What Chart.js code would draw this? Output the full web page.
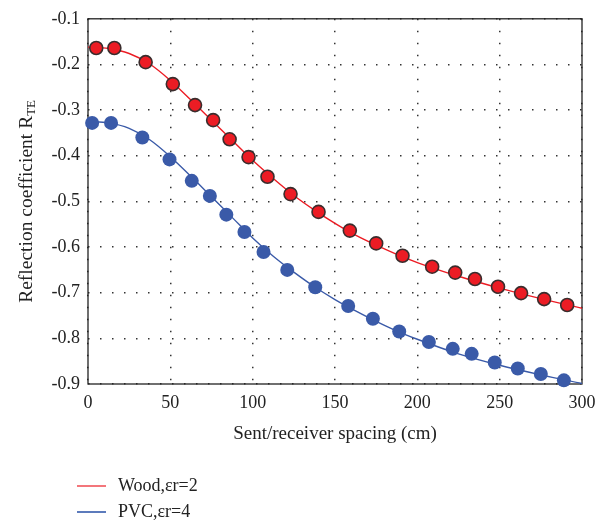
<!DOCTYPE html>
<html>
<head>
<meta charset="utf-8">
<title>Reflection coefficient</title>
<script src="https://cdn.jsdelivr.net/npm/chart.js@4/dist/chart.umd.min.js"></script>
<style>
  html, body { margin: 0; padding: 0; background: #fff; }
  #chart { display: block; }
</style>
</head>
<body>
<canvas id="chart" width="611" height="525"></canvas>
<script>
// ---- data ----
const xTicks = [0, 50, 100, 150, 200, 250, 300];
const yTicks = [-0.9, -0.8, -0.7, -0.6, -0.5, -0.4, -0.3, -0.2, -0.1];

// measured points
const woodX = [5, 16, 35, 51.5, 65, 76, 86, 97.5, 109, 123, 140, 159, 175, 191, 209, 223, 235, 249, 263, 277, 291];
const woodY = [-0.164, -0.164, -0.195, -0.243, -0.289, -0.322, -0.364, -0.403, -0.446, -0.484, -0.523,
               -0.564, -0.592, -0.619, -0.643, -0.656, -0.670, -0.687, -0.701, -0.714, -0.727];
const pvcX  = [2.5, 14, 33, 49.5, 63, 74, 84, 95, 106.6, 121, 138, 158, 173, 189, 207, 221.5, 233, 247, 261, 275, 289];
const pvcY  = [-0.328, -0.328, -0.360, -0.408, -0.455, -0.488, -0.529, -0.567, -0.611, -0.650, -0.688,
               -0.729, -0.757, -0.785, -0.808, -0.823, -0.834, -0.853, -0.866, -0.878, -0.892];

// fitted curves
const curveX    = [0, 12.5, 25, 37.5, 50, 62.5, 75, 87.5, 100, 112.5, 125, 137.5, 150, 162.5, 175, 187.5, 200, 225, 250, 275, 300];
const woodCurve = [-0.162, -0.165, -0.176, -0.199, -0.235, -0.278, -0.322, -0.366, -0.410, -0.450, -0.487,
                   -0.519, -0.548, -0.574, -0.596, -0.616, -0.634, -0.664, -0.690, -0.713, -0.734];
const pvcCurve  = [-0.325, -0.328, -0.340, -0.365, -0.402, -0.445, -0.490, -0.535, -0.580, -0.620, -0.655,
                   -0.687, -0.715, -0.740, -0.763, -0.784, -0.802, -0.834, -0.859, -0.880, -0.899];

const legendLabels = ['Wood,\u03B5r=2', 'PVC,\u03B5r=4'];

const RED  = '#ec1c24';
const BLUE = '#3a5aa8';
const SERIF = '"Liberation Serif", "DejaVu Serif", serif';

const zip = (xs, ys) => xs.map((x, i) => ({ x, y: ys[i] }));

//  Frame box + custom axis title + legend
const decorPlugin = {
  id: 'decor',
  beforeDatasetsDraw(chart) {
    const { ctx, chartArea: a } = chart;
    ctx.save();
    ctx.strokeStyle = '#222';
    ctx.lineWidth = 1.3;
    ctx.strokeRect(a.left, a.top, a.right - a.left, a.bottom - a.top);
    ctx.restore();
  },
  afterDraw(chart) {
    const { ctx, chartArea: a } = chart;

    // y title with subscript
    ctx.save();
    ctx.fillStyle = '#222';
    ctx.textBaseline = 'middle';
    const main = 'Reflection coefficient R';
    const sub  = 'TE';
    ctx.font = '19.5px ' + SERIF;
    const wMain = ctx.measureText(main).width;
    ctx.font = '13px ' + SERIF;
    const wSub = ctx.measureText(sub).width;
    ctx.translate(27, (a.top + a.bottom) / 2);
    ctx.rotate(-Math.PI / 2);
    const x0 = -(wMain + wSub) / 2;
    ctx.font = '19.5px ' + SERIF;
    ctx.fillText(main, x0, 0);
    ctx.font = '13px ' + SERIF;
    ctx.fillText(sub, x0 + wMain, 5);
    ctx.restore();

    // legend (curves only)
    const items = [
      { label: legendLabels[0], color: RED,       y: 486 },
      { label: legendLabels[1], color: '#4a6db5', y: 512 },
    ];
    ctx.save();
    ctx.font = '18px ' + SERIF;
    ctx.textBaseline = 'middle';
    items.forEach(it => {
      ctx.strokeStyle = it.color;
      ctx.lineWidth = it.color === RED ? 1.2 : 1.8;
      ctx.beginPath();
      ctx.moveTo(77, it.y);
      ctx.lineTo(106, it.y);
      ctx.stroke();
      ctx.fillStyle = '#222';
      ctx.fillText(it.label, 118, it.y);
    });
    ctx.restore();
  },
};

new Chart(document.getElementById('chart'), {
  type: 'line',
  data: {
    datasets: [
      {
        label: legendLabels[0] + ' data',
        data: zip(woodX, woodY),
        showLine: false,
        pointRadius: 6.5,
        pointBackgroundColor: RED,
        pointBorderColor: '#3a2d2d',
        pointBorderWidth: 1.6,
        order: 0,
        clip: false,
      },
      {
        label: legendLabels[1] + ' data',
        data: zip(pvcX, pvcY),
        showLine: false,
        pointRadius: 7,
        pointBackgroundColor: BLUE,
        pointBorderColor: BLUE,
        pointBorderWidth: 0,
        order: 0,
        clip: false,
      },
      {
        label: legendLabels[0],
        data: zip(curveX, woodCurve),
        borderColor: RED,
        borderWidth: 1.4,
        pointRadius: 0,
        cubicInterpolationMode: 'monotone',
        order: 1,
      },
      {
        label: legendLabels[1],
        data: zip(curveX, pvcCurve),
        borderColor: BLUE,
        borderWidth: 1.4,
        pointRadius: 0,
        cubicInterpolationMode: 'monotone',
        order: 1,
      },
    ],
  },
  options: {
    responsive: false,
    animation: false,
    events: [],
    layout: { padding: { left: 0, right: 29, top: 12, bottom: 80 } },
    plugins: {
      legend:  { display: false },
      tooltip: { enabled: false },
    },
    scales: {
      x: {
        type: 'linear',
        min: xTicks[0],
        max: xTicks[xTicks.length - 1],
        afterBuildTicks: s => { s.ticks = xTicks.map(v => ({ value: v })); },
        afterFit: s => { s.height = 61; },
        grid: { color: '#333', lineWidth: 1.5, drawTicks: false },
        border: { display: false, dash: [1.5, 10.5] },
        ticks: {
          color: '#222',
          padding: 8,
          maxRotation: 0,
          font: { family: SERIF, size: 18 },
          callback: v => String(v),
        },
        title: {
          display: true,
          text: 'Sent/receiver spacing (cm)',
          color: '#222',
          padding: { top: 0, bottom: 0 },
          font: { family: SERIF, size: 19 },
        },
      },
      y: {
        type: 'linear',
        min: yTicks[0],
        max: yTicks[yTicks.length - 1],
        afterBuildTicks: s => { s.ticks = yTicks.map(v => ({ value: v })); },
        afterFit: s => { s.width = 88; },
        grid: { color: '#333', lineWidth: 1.5, drawTicks: false },
        border: { display: false, dash: [1.5, 10.5] },
        ticks: {
          color: '#222',
          padding: 8,
          font: { family: SERIF, size: 18 },
          callback: v => Number(v).toFixed(1),
        },
      },
    },
  },
  plugins: [decorPlugin],
});
</script>
</body>
</html>
